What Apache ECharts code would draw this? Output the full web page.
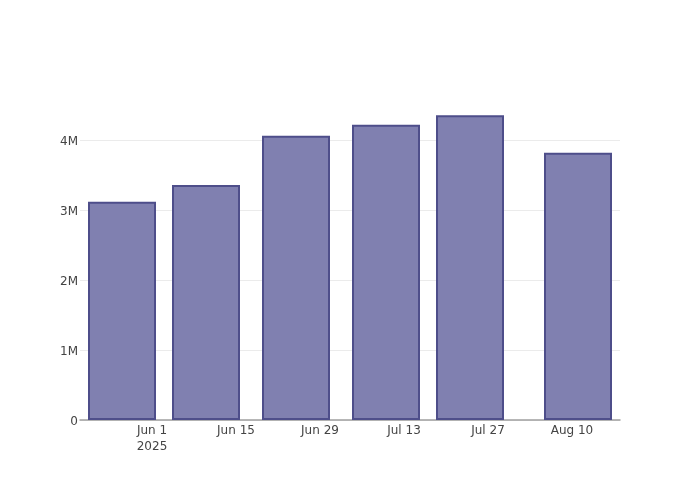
<!DOCTYPE html>
<html>
<head>
<meta charset="utf-8">
<script src="https://cdn.jsdelivr.net/npm/echarts@6/dist/echarts.min.js"></script>
<style>html,body{margin:0;padding:0;background:#fff}#c{width:700px;height:500px}</style>
</head>
<body>
<div id="c"></div>
<script>
const dates = ['2025-05-27', '2025-06-10', '2025-06-25', '2025-07-10', '2025-07-24', '2025-08-11'];
const values = [3119000, 3357000, 4061000, 4219000, 4352000, 3819000];
const xTickDates = ['2025-06-01', '2025-06-15', '2025-06-29', '2025-07-13', '2025-07-27', '2025-08-10'];
const xTickLabels = ['Jun 1\n2025', 'Jun 15', 'Jun 29', 'Jul 13', 'Jul 27', 'Aug 10'];
const yTicks = [0, 1000000, 2000000, 3000000, 4000000];
const yTickLabels = ['0', '1M', '2M', '3M', '4M'];

const ts = d => { const p = d.split('-').map(Number); return Date.UTC(p[0], p[1] - 1, p[2]); };
const tickTs = xTickDates.map(ts);

const chart = echarts.init(document.getElementById('c'), null, {renderer: 'canvas'});
chart.setOption({
  animation: false,
  backgroundColor: '#ffffff',
  textStyle: {fontFamily: 'DejaVu Sans'},
  grid: {left: 80, right: 80, top: 100, bottom: 80, containLabel: false, outerBoundsMode: 'none'},
  xAxis: {
    type: 'value',
    min: ts('2025-05-20'),
    max: ts('2025-08-18'),
    axisLine: {show: true, lineStyle: {color: '#a0a0a0', width: 1.5}},
    axisTick: {show: false},
    splitLine: {show: false},
    axisLabel: {
      customValues: tickTs,
      color: '#444',
      fontSize: 12,
      fontFamily: 'DejaVu Sans',
      margin: 3,
      lineHeight: 16,
      hideOverlap: false,
      formatter: v => { const i = tickTs.indexOf(v); return i >= 0 ? xTickLabels[i] : ''; }
    }
  },
  yAxis: {
    type: 'value',
    min: 0,
    max: 4571000,
    interval: 1000000,
    axisLine: {show: false},
    axisTick: {show: false},
    splitLine: {show: true, lineStyle: {color: ['#ebebeb', '#ebebeb', '#ebebeb', '#ebebeb', '#ebebeb', 'rgba(0,0,0,0)'], width: 1}},
    axisLabel: {
      color: '#444',
      fontSize: 12,
      fontFamily: 'DejaVu Sans',
      margin: 2,
      showMaxLabel: false,
      formatter: v => { const i = yTicks.indexOf(v); return i >= 0 ? '{a|' + yTickLabels[i] + '}' : ''; },
      rich: {a: {color: '#444', fontSize: 12, fontFamily: 'DejaVu Sans', padding: [4, 0, 0, 0]}}
    }
  },
  series: [{
    type: 'bar',
    data: dates.map((d, i) => [ts(d), values[i]]),
    barWidth: 68,
    itemStyle: {color: 'rgb(128,128,176)', borderColor: 'rgb(78,78,138)', borderWidth: 2},
    z: 2
  }]
});
</script>
</body>
</html>
